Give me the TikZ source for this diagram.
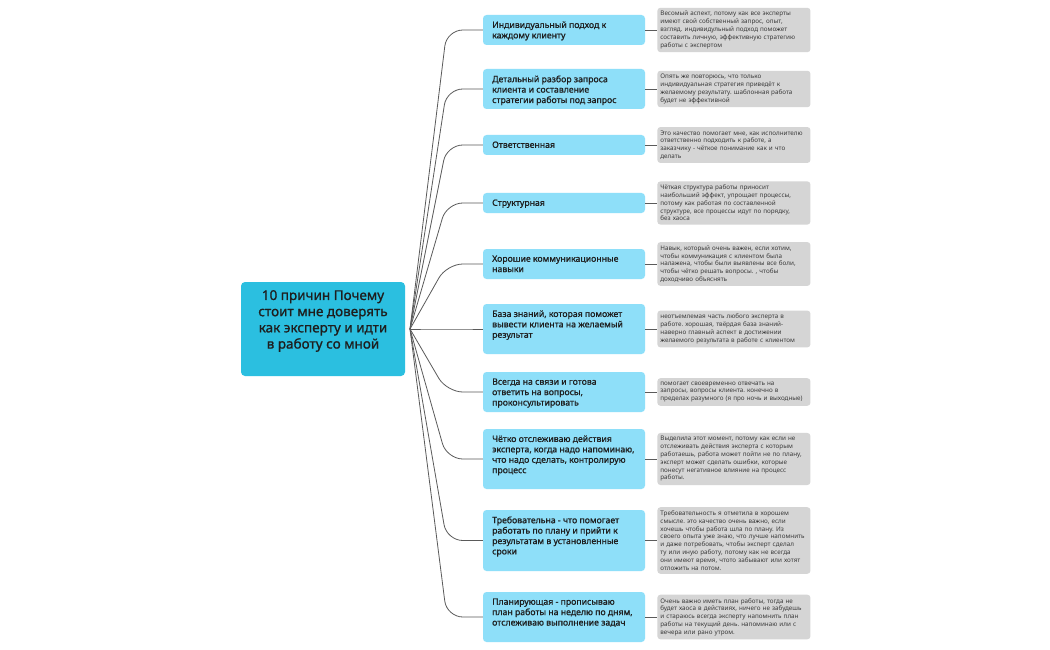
\documentclass[tikz,border=0pt]{standalone}
\usepackage{fontspec}
\setmainfont{Noto Sans}
\newfontfamily\medfont{Noto Sans}[FakeBold=1]
\usetikzlibrary{calc}
\frenchspacing
\definecolor{hubblue}{HTML}{2BBFE0}
\definecolor{midblue}{HTML}{8EDFF9}
\definecolor{notegray}{HTML}{D5D5D5}
\definecolor{textdark}{HTML}{1E1E1E}
\definecolor{notetext}{HTML}{3A3A3A}
\definecolor{conngray}{HTML}{5A5A5A}
\newcommand{\midbox}[4]{%
  \node[midrect, minimum height={#3-#2}] (#1) at (564,{(#2+#3)/2}) {};
  \node[midtext, anchor=north west] (#1t) at (492,{#2+6.3}) {#4};
}
\newcommand{\notebox}[3]{%
  \node[noterect, anchor=west] (#2) at ($(#1.east)+(12,0)$) {#3};
  \draw[conn] (#1.east) -- (#2.west);
  \draw[conn, rounded corners=16pt] (o) -- ($(#1.west)+(-36,0)$) -- (#1.west);
}
\begin{document}
\begin{tikzpicture}[x=1pt,y=-1pt,
  hub/.style={fill=hubblue, rounded corners=4pt, minimum width=164pt, minimum height=94pt, inner sep=0pt},
  hubtext/.style={font=\medfont\fontsize{13.5}{16.2}\selectfont, align=center, text=textdark, inner sep=0pt},
  midrect/.style={fill=midblue, rounded corners=3.5pt, minimum width=162pt, inner sep=0pt},
  midtext/.style={font=\medfont\fontsize{8.7}{10.4}\selectfont, align=left, text=textdark, inner sep=0pt},
  noterect/.style={fill=notegray, rounded corners=3pt, text width=147pt, inner xsep=3pt, inner ysep=3.5pt, align=left, font=\fontsize{6.3}{7.8}\selectfont, text=notetext},
  conn/.style={draw=conngray, line width=0.8pt}]
\useasboundingbox (0,0) rectangle (1050,650);
\fill[white] (0,0) rectangle (1050,650);

\node[hub] (hub) at (323,329) {};
\node[hubtext] (hubt) at (323,321) {10 причин Почему\\стоит мне доверять\\как эксперту и идти\\в работу со мной};
\coordinate (o) at (410,329);

\midbox{m1}{15}{45}{Индивидуальный подход к\\каждому клиенту}
\midbox{m2}{69}{109}{Детальный разбор запроса\\клиента и составление\\стратегии работы под запрос}
\midbox{m3}{135}{155}{Ответственная}
\midbox{m4}{193}{213}{Структурная}
\midbox{m5}{249}{279}{Хорошие коммуникационные\\навыки}
\midbox{m6}{304}{354}{База знаний, которая поможет\\вывести клиента на желаемый\\результат}
\midbox{m7}{372}{412}{Всегда на связи и готова\\ответить на вопросы,\\проконсультировать}
\midbox{m8}{429}{489}{Чётко отслеживаю действия\\эксперта, когда надо напоминаю,\\что надо сделать, контролирую\\процесс}
\midbox{m9}{510}{571}{Требовательна - что помогает\\работать по плану и прийти к\\результатам в установленные\\сроки}
\midbox{m10}{592}{642}{Планирующая - прописываю\\план работы на неделю по дням,\\отслеживаю выполнение задач}

\notebox{m1}{n1}{Весомый аспект, потому как все эксперты\\имеют свой собственный запрос, опыт,\\взгляд. индивидульный подход поможет\\составить личную, эффективную стратегию\\работы с экспертом}
\notebox{m2}{n2}{Опять же повторюсь, что только\\индивидуальная стратегия приведёт к\\желаемому результату. шаблонная работа\\будет не эффективной}
\notebox{m3}{n3}{Это качество помогает мне, как исполнителю\\ответственно подходить к работе, а\\заказчику - чёткое понимание как и что\\делать}
\notebox{m4}{n4}{Чёткая структура работы приносит\\наибольший эффект, упрощает процессы,\\потому как работая по составленной\\структуре, все процессы идут по порядку,\\без хаоса}
\notebox{m5}{n5}{Навык, который очень важен, если хотим,\\чтобы коммуникация с клиентом была\\налажена, чтобы были выявлены все боли,\\чтобы чётко решать вопросы. , чтобы\\доходчиво объяснять}
\notebox{m6}{n6}{неотъемлемая часть любого эксперта в\\работе. хорошая, твёрдая база знаний-\\наверно главный аспект в достижении\\желаемого результата в работе с клиентом}
\notebox{m7}{n7}{помогает своевременно отвечать на\\запросы, вопросы клиента. конечно в\\пределах разумного (я про ночь и выходные)}
\notebox{m8}{n8}{Выделила этот момент, потому как если не\\отслеживать действия эксперта с которым\\работаешь, работа может пойти не по плану,\\эксперт может сделать ошибки, которые\\понесут негативное влияние на процесс\\работы.}
\notebox{m9}{n9}{Требовательность я отметила в хорошем\\смысле. это качество очень важно, если\\хочешь чтобы работа шла по плану. Из\\своего опыта уже знаю, что лучше напомнить\\и даже потребовать, чтобы эксперт сделал\\ту или иную работу, потому как не всегда\\они имеют время, чтото забывают или хотят\\отложить на потом.}
\notebox{m10}{n10}{Очень важно иметь план работы, тогда не\\будет хаоса в действиях, ничего не забудешь\\и стараюсь всегда эксперту напомнить план\\работы на текущий день. напоминаю или с\\вечера или рано утром.}
\end{tikzpicture}
\end{document}
